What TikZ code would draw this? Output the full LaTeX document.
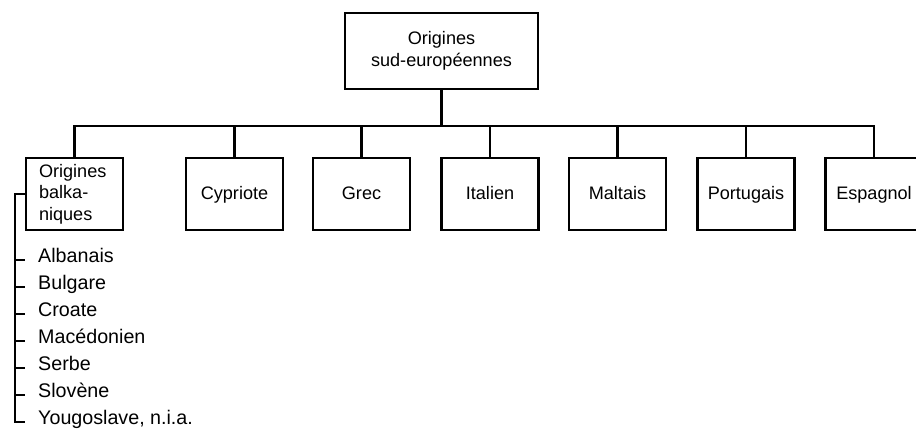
\documentclass[tikz,border=0pt]{standalone}
\usepackage{fontspec}
\setmainfont{Liberation Sans}
\usetikzlibrary{positioning}

\begin{document}
\begin{tikzpicture}[x=0.2mm,y=-0.2mm,line width=1.4pt,
    font=\fontsize{10.3}{12.3}\selectfont,
    topbox/.style={draw,align=center,minimum width=3.86cm,minimum height=1.52cm},
    childbox/.style={draw,align=center,minimum width=1.94cm,minimum height=1.44cm},
    onerow/.style={text height=8.6pt,text depth=1.8pt},
    itemtext/.style={anchor=west,inner sep=0pt,text height=5pt,text depth=1.6pt,
        font=\fontsize{11.2}{13}\selectfont}]
    \useasboundingbox (0,0) rectangle (916,429);

    % Root of the tree
    \node[topbox] (root) at (441.5,51) {Origines\\sud-européennes};

    % First row of origins
    \node[childbox,align=left,text width=1.42cm,inner xsep=2.6mm,inner ysep=1mm] (balk) at (74.5,194) {Origines\\balka-\\niques};
    \node[childbox,onerow] (cyp) at (234.5,194) {Cypriote};
    \node[childbox,onerow] (grec) at (361.5,194) {Grec};
    \node[childbox,onerow] (ital) at (490,194) {Italien};
    \node[childbox,onerow] (malt) at (617.5,194) {Maltais};
    \node[childbox,onerow] (port) at (746,194) {Portugais};
    \node[childbox,onerow] (esp) at (874,194) {Espagnol};

    % Connectors from the root
    \coordinate (bar) at (441.5,126);
    \draw (root.south) -- (bar);
    \foreach \n in {balk,cyp,grec,ital,malt,port,esp}
        \draw (bar) -| (\n.north);

    % Balkan sub-list
    \coordinate (spine) at (15,194);
    \node[itemtext] (alb) at (37,260) {Albanais};
    \node[itemtext] (bul) at (37,287) {Bulgare};
    \node[itemtext] (cro) at (37,314) {Croate};
    \node[itemtext] (mac) at (37,341) {Macédonien};
    \node[itemtext] (ser) at (37,368) {Serbe};
    \node[itemtext] (slo) at (37,395) {Slovène};
    \node[itemtext] (you) at (37,422) {Yougoslave, n.i.a.};

    \draw (balk.west) -| (spine |- you.west) -- ++(10,0);
    \foreach \n in {alb,bul,cro,mac,ser,slo}
        \draw (spine |- \n.west) -- ++(10,0);
\end{tikzpicture}
\end{document}
